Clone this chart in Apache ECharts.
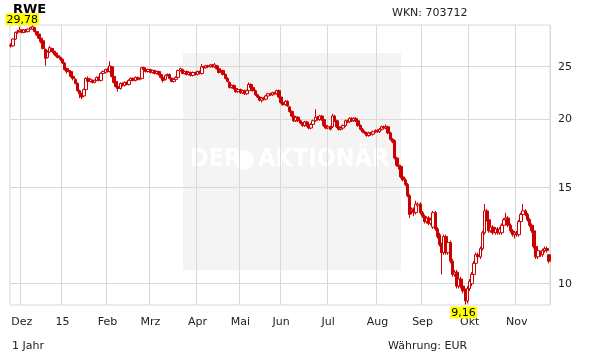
<!DOCTYPE html>
<html><head><meta charset="utf-8">
<script src="https://cdn.jsdelivr.net/npm/echarts@6/dist/echarts.min.js"></script>
<style>html,body{margin:0;padding:0;background:#fff}#c{width:611px;height:364px}</style>
</head><body><div id="c"></div>
<script>
const dates = [
'2014-11-24','2014-11-25','2014-11-26','2014-11-27','2014-11-28',
'2014-12-01','2014-12-02','2014-12-03','2014-12-04','2014-12-05','2014-12-08','2014-12-09','2014-12-10','2014-12-11','2014-12-12','2014-12-15','2014-12-16','2014-12-17','2014-12-18','2014-12-19','2014-12-22','2014-12-23','2014-12-29','2014-12-30',
'2015-01-02','2015-01-05','2015-01-06','2015-01-07','2015-01-08','2015-01-09','2015-01-12','2015-01-13','2015-01-14','2015-01-15','2015-01-16','2015-01-19','2015-01-20','2015-01-21','2015-01-22','2015-01-23','2015-01-26','2015-01-27','2015-01-28','2015-01-29','2015-01-30',
'2015-02-02','2015-02-03','2015-02-04','2015-02-05','2015-02-06','2015-02-09','2015-02-10','2015-02-11','2015-02-12','2015-02-13','2015-02-16','2015-02-17','2015-02-18','2015-02-19','2015-02-20','2015-02-23','2015-02-24','2015-02-25','2015-02-26','2015-02-27',
'2015-03-02','2015-03-03','2015-03-04','2015-03-05','2015-03-06','2015-03-09','2015-03-10','2015-03-11','2015-03-12','2015-03-13','2015-03-16','2015-03-17','2015-03-18','2015-03-19','2015-03-20','2015-03-23','2015-03-24','2015-03-25','2015-03-26','2015-03-27','2015-03-30','2015-03-31',
'2015-04-01','2015-04-02','2015-04-07','2015-04-08','2015-04-09','2015-04-10','2015-04-13','2015-04-14','2015-04-15','2015-04-16','2015-04-17','2015-04-20','2015-04-21','2015-04-22','2015-04-23','2015-04-24','2015-04-27','2015-04-28','2015-04-29','2015-04-30',
'2015-05-04','2015-05-05','2015-05-06','2015-05-07','2015-05-08','2015-05-11','2015-05-12','2015-05-13','2015-05-14','2015-05-15','2015-05-18','2015-05-19','2015-05-20','2015-05-21','2015-05-22','2015-05-26','2015-05-27','2015-05-28','2015-05-29',
'2015-06-01','2015-06-02','2015-06-03','2015-06-04','2015-06-05','2015-06-08','2015-06-09','2015-06-10','2015-06-11','2015-06-12','2015-06-15','2015-06-16','2015-06-17','2015-06-18','2015-06-19','2015-06-22','2015-06-23','2015-06-24','2015-06-25','2015-06-26','2015-06-29','2015-06-30',
'2015-07-01','2015-07-02','2015-07-03','2015-07-06','2015-07-07','2015-07-08','2015-07-09','2015-07-10','2015-07-13','2015-07-14','2015-07-15','2015-07-16','2015-07-17','2015-07-20','2015-07-21','2015-07-22','2015-07-23','2015-07-24','2015-07-27','2015-07-28','2015-07-29','2015-07-30','2015-07-31',
'2015-08-03','2015-08-04','2015-08-05','2015-08-06','2015-08-07','2015-08-10','2015-08-11','2015-08-12','2015-08-13','2015-08-14','2015-08-17','2015-08-18','2015-08-19','2015-08-20','2015-08-21','2015-08-24','2015-08-25','2015-08-26','2015-08-27','2015-08-28','2015-08-31',
'2015-09-01','2015-09-02','2015-09-03','2015-09-04','2015-09-07','2015-09-08','2015-09-09','2015-09-10','2015-09-11','2015-09-14','2015-09-15','2015-09-16','2015-09-17','2015-09-18','2015-09-21','2015-09-22','2015-09-23','2015-09-24','2015-09-25','2015-09-28','2015-09-29','2015-09-30',
'2015-10-01','2015-10-02','2015-10-05','2015-10-06','2015-10-07','2015-10-08','2015-10-09','2015-10-12','2015-10-13','2015-10-14','2015-10-15','2015-10-16','2015-10-19','2015-10-20','2015-10-21','2015-10-22','2015-10-23','2015-10-26','2015-10-27','2015-10-28','2015-10-29','2015-10-30',
'2015-11-02','2015-11-03','2015-11-04','2015-11-05','2015-11-06','2015-11-09','2015-11-10','2015-11-11','2015-11-12','2015-11-13','2015-11-16','2015-11-17','2015-11-18','2015-11-19','2015-11-20','2015-11-23'
];
// [open, close, low, high]
const ohlc = [
[27.4,27.3,27.1,27.6],[27.3,28.1,27.2,28.2],[28.1,28.9,28.0,29.0],[28.9,29.0,28.7,29.2],[29.0,29.2,28.9,29.6],
[29.2,28.9,28.8,29.3],[28.9,29.2,28.8,29.3],[29.2,29.0,28.9,29.3],[29.0,29.3,28.9,29.4],[29.3,29.5,29.2,29.6],
[29.3,29.6,29.2,29.78],[29.5,29.0,28.9,29.6],[29.0,28.6,28.5,29.1],[28.7,28.2,28.1,28.8],[28.2,27.8,27.6,28.3],
[27.9,27.0,26.9,28.0],[26.9,25.9,25.1,27.0],[26.0,26.6,25.9,26.8],[26.6,27.1,26.5,27.3],[27.0,26.7,26.6,27.1],
[26.7,26.5,26.3,26.8],[26.5,26.2,26.1,26.6],[26.2,26.0,25.9,26.4],[26.0,25.8,25.6,26.1],[25.8,25.4,25.3,25.9],
[25.4,24.7,24.6,25.5],[24.8,24.5,24.3,24.9],[24.5,24.6,24.4,24.8],[24.5,24.0,23.9,24.6],[24.0,23.8,23.6,24.1],
[23.7,23.3,23.2,23.8],[23.3,22.6,22.5,23.4],[22.6,22.3,21.9,22.7],[22.3,22.0,21.8,22.4],[22.1,22.7,22.0,22.8],
[22.7,23.8,22.6,23.9],[23.8,23.5,23.4,24.0],[23.5,23.7,23.4,23.8],[23.6,23.4,23.3,23.7],[23.4,23.6,23.3,23.7],
[23.6,23.9,23.5,24.0],[23.9,23.6,23.5,24.0],[23.6,24.3,23.5,24.4],[24.3,24.5,24.2,24.6],[24.4,24.7,24.3,24.8],
[24.7,24.5,24.4,24.9],[24.5,25.1,24.4,25.6],[25.0,24.0,23.9,25.1],[24.0,23.4,23.3,24.1],[23.5,23.0,22.9,23.6],
[23.0,22.8,22.5,23.1],[22.8,23.3,22.7,23.4],[23.3,23.1,23.0,23.4],[23.1,23.4,23.0,23.5],[23.4,23.2,23.1,23.5],
[23.2,23.6,23.1,23.7],[23.6,23.8,23.5,23.9],[23.8,23.6,23.5,23.9],[23.6,23.9,23.5,24.0],[23.9,23.7,23.6,24.0],
[23.7,23.8,23.6,23.9],[23.8,24.9,23.7,25.0],[24.9,24.7,24.6,25.0],[24.7,24.5,24.4,24.8],[24.5,24.7,24.4,24.8],
[24.7,24.4,24.3,24.8],[24.4,24.6,24.3,24.7],[24.6,24.3,24.2,24.7],[24.3,24.5,24.2,24.6],[24.5,24.2,24.1,24.6],
[24.2,23.9,23.8,24.3],[23.9,23.6,23.4,24.0],[23.7,24.1,23.6,24.2],[24.1,24.2,24.0,24.3],[24.2,23.8,23.7,24.3],
[23.8,23.5,23.4,23.9],[23.5,23.7,23.4,23.8],[23.7,23.9,23.6,24.0],[23.9,24.6,23.8,24.7],[24.6,24.8,24.5,24.9],
[24.7,24.3,24.2,24.8],[24.3,24.5,24.2,24.6],[24.5,24.2,24.1,24.6],[24.2,24.4,24.1,24.5],[24.4,24.1,24.0,24.5],
[24.1,24.4,24.0,24.5],[24.4,24.2,24.1,24.5],[24.2,24.5,24.1,24.6],[24.5,24.3,24.2,24.6],[24.3,25.0,24.2,25.3],
[25.0,24.9,24.8,25.1],[24.9,25.1,24.8,25.2],[25.1,25.0,24.9,25.2],[25.0,25.2,24.9,25.3],[25.2,25.0,24.9,25.3],
[25.0,25.2,24.9,25.4],[25.1,24.8,24.7,25.2],[24.8,24.4,24.3,24.9],[24.5,24.6,24.4,24.7],[24.6,24.2,24.1,24.7],
[24.2,23.8,23.7,24.3],[23.8,23.5,23.4,23.9],[23.4,22.9,22.8,23.5],[22.9,23.1,22.8,23.2],[23.1,22.8,22.7,23.2],
[22.8,22.5,22.4,22.9],[22.5,22.7,22.4,22.8],[22.7,22.4,22.3,22.8],[22.4,22.6,22.3,22.7],[22.6,22.3,22.2,22.7],
[22.3,22.6,22.2,22.7],[22.6,23.2,22.5,23.4],[23.2,22.9,22.8,23.3],[22.9,22.6,22.5,23.0],[22.6,22.2,22.1,22.7],
[22.2,22.0,21.9,22.3],[22.0,21.7,21.6,22.1],[21.7,21.9,21.5,22.0],[21.9,21.8,21.7,22.0],[21.8,22.1,21.7,22.2],
[22.1,22.3,22.0,22.4],[22.3,22.2,22.1,22.4],[22.2,22.4,22.1,22.5],[22.4,22.3,22.2,22.5],[22.3,22.6,22.2,22.7],
[22.6,22.0,21.9,22.7],[22.0,21.5,21.4,22.1],[21.5,21.3,21.2,21.6],[21.3,21.6,21.2,21.7],[21.6,21.2,21.1,21.7],
[21.1,20.7,20.6,21.2],[20.7,20.3,20.2,20.8],[20.3,19.9,19.8,20.4],[19.9,20.2,19.8,20.3],[20.2,19.9,19.8,20.3],
[19.9,19.7,19.6,20.0],[19.7,19.5,19.4,19.8],[19.5,19.8,19.4,19.9],[19.8,19.5,19.4,19.9],[19.5,19.3,19.2,19.6],
[19.3,19.6,19.2,19.7],[19.6,19.9,19.5,20.0],[19.9,20.2,19.8,20.9],[20.2,20.0,19.9,20.3],[20.0,20.3,19.9,20.4],
[20.3,20.0,19.9,20.4],[20.0,19.5,19.4,20.1],[19.5,19.3,19.2,19.6],[19.3,19.4,19.2,19.5],[19.4,19.2,19.1,19.5],
[19.4,20.3,19.3,20.5],[20.3,19.9,19.8,20.4],[19.9,19.4,19.3,20.0],[19.4,19.2,19.1,19.5],[19.2,19.3,19.1,19.4],
[19.3,19.5,19.2,19.6],[19.5,19.9,19.4,20.0],[19.9,19.8,19.7,20.0],[19.8,20.1,19.7,20.2],[20.1,19.9,19.8,20.2],
[19.9,20.1,19.8,20.2],[20.1,19.9,19.8,20.2],[19.9,19.5,19.4,20.0],[19.5,19.2,19.1,19.6],[19.2,19.0,18.9,19.3],
[19.0,18.9,18.8,19.1],[18.9,18.7,18.6,19.0],[18.7,18.9,18.6,19.0],[18.9,18.8,18.7,19.0],[18.8,19.0,18.7,19.1],
[19.0,19.1,18.9,19.2],[19.1,19.0,18.9,19.2],[19.0,19.2,18.9,19.3],[19.2,19.4,19.1,19.5],[19.4,19.3,19.2,19.5],
[19.3,19.4,19.2,19.6],[19.4,18.9,18.8,19.5],[18.9,18.4,18.3,19.0],[18.4,18.2,18.1,18.5],[18.3,17.0,16.9,18.4],
[17.0,16.5,16.4,17.1],[16.5,16.4,16.2,16.7],[16.4,15.7,15.6,16.5],[15.7,15.5,15.4,15.8],[15.5,15.2,15.1,15.6],
[15.2,14.5,14.4,15.3],[14.5,13.4,13.2,14.6],[13.6,13.7,13.4,13.8],[13.7,13.5,13.3,13.8],[13.5,14.0,13.4,14.2],
[13.9,14.0,13.8,14.1],[14.0,13.5,13.4,14.1],[13.5,13.3,13.2,13.6],[13.3,13.0,12.9,13.4],[13.0,13.2,12.9,13.3],
[13.2,12.9,12.8,13.3],[12.9,13.1,12.8,13.2],[12.7,13.5,12.6,13.6],[13.5,12.6,12.5,13.6],[12.6,12.2,12.1,12.7],
[12.3,11.8,11.7,12.4],[11.8,11.4,10.4,11.9],[11.4,12.2,11.3,12.3],[12.2,11.4,11.3,12.3],[11.4,11.9,11.3,12.0],
[11.9,11.0,10.9,12.0],[11.0,10.4,10.3,11.1],[10.4,10.5,10.3,10.6],[10.5,9.9,9.8,10.6],[9.9,10.2,9.8,10.3],
[10.2,9.9,9.8,10.3],[9.9,9.7,9.6,10.0],[9.7,9.3,9.16,9.8],[9.3,9.8,9.2,9.9],[9.8,10.1,9.7,10.2],
[10.0,10.4,9.9,10.5],[10.4,10.9,10.3,11.0],[10.9,11.3,10.8,11.4],[11.3,11.2,11.0,11.4],[11.2,11.6,11.1,11.7],
[11.6,12.4,11.5,12.5],[12.4,13.6,12.3,14.0],[13.6,13.1,13.0,13.7],[13.1,12.5,12.4,13.2],[12.5,12.7,12.4,12.8],
[12.7,12.4,12.3,12.8],[12.4,12.6,12.3,12.7],[12.6,12.4,12.3,12.7],[12.4,12.6,12.3,12.7],[12.4,12.8,12.3,12.9],
[12.8,13.1,12.7,13.2],[13.1,13.2,13.0,13.5],[13.2,12.8,12.7,13.3],[12.8,12.5,12.4,12.9],[12.5,12.3,12.2,12.6],
[12.3,12.4,12.1,12.5],[12.4,12.3,12.2,12.5],[12.3,13.0,12.2,13.1],[13.0,13.4,12.9,13.5],[13.4,13.6,13.3,14.0],
[13.6,13.4,13.3,13.7],[13.4,13.1,13.0,13.5],[13.1,12.8,12.7,13.2],[12.8,12.5,12.4,12.9],[12.5,11.7,11.6,12.6],
[11.7,11.2,11.1,11.8],[11.2,11.5,11.1,11.6],[11.4,11.3,11.2,11.5],[11.3,11.5,11.2,11.6],[11.5,11.6,11.4,11.7],
[11.6,11.5,11.4,11.7],[11.3,11.0,10.9,11.3]
];
const monthNames = ['15','Feb','Mrz','Apr','Mai','Jun','Jul','Aug','Sep','Okt','Nov','Dez'];
const yTicks = [10, 15, 20, 25];
const titleText = 'RWE';
const wknText = 'WKN: 703712';
const rangeText = '1 Jahr';
const currencyText = 'Währung: EUR';

const FONT = 'DejaVu Sans';
const RED = '#cc0000';
const GRID = '#d9d9d9';
function isMonthStart(i) {
  return i > 0 && dates[i].slice(5, 7) !== dates[i - 1].slice(5, 7);
}
function fmt(v) { return v.toFixed(2).replace('.', ','); }

const chart = echarts.init(document.getElementById('c'), null, {renderer: 'canvas'});
chart.setOption({
  animation: false,
  backgroundColor: '#fff',
  grid: {left: 10, right: 61, top: 25, bottom: 59, show: true, borderColor: GRID, borderWidth: 1, backgroundColor: 'transparent'},
  graphic: [
    {type: 'rect', z: -10, shape: {x: 183, y: 53, width: 218, height: 217}, style: {fill: '#f4f4f4'}},
    {type: 'text', z: -9, left: 190, top: 147, style: {text: 'DER', fill: '#ffffff', font: 'bold 25px "DejaVu Sans Condensed"'}},
    {type: 'circle', z: -9, shape: {cx: 244, cy: 160, r: 10}, style: {fill: '#ffffff'}},
    {type: 'text', z: -9, left: 258, top: 147, style: {text: 'AKTIONÄR', fill: '#ffffff', font: 'bold 25px "DejaVu Sans Condensed"'}},
    {type: 'text', left: 13, top: 3, style: {text: titleText, fill: '#000', font: 'bold 13px "DejaVu Sans"'}},
    {type: 'text', left: 392, top: 8, style: {text: wknText, fill: '#222', font: '11px "DejaVu Sans"'}},
    {type: 'text', left: 12, top: 341, style: {text: rangeText, fill: '#222', font: '11px "DejaVu Sans"'}},
    {type: 'text', left: 388, top: 341, style: {text: currencyText, fill: '#222', font: '11px "DejaVu Sans"'}}
  ],
  xAxis: {
    type: 'category', data: dates, boundaryGap: true,
    axisLine: {show: false}, axisTick: {show: false},
    axisLabel: {interval: (i) => isMonthStart(i), formatter: (v) => monthNames[+v.slice(5, 7) - 1],
      color: '#222', fontFamily: FONT, fontSize: 11, margin: 12},
    splitLine: {show: true, interval: (i) => isMonthStart(i), lineStyle: {color: GRID, width: 1}}
  },
  yAxis: {
    type: 'log', logBase: 10, position: 'right', min: 9.14, max: 29.82,
    axisLine: {show: false},
    axisTick: {show: false, customValues: yTicks},
    axisLabel: {customValues: yTicks, color: '#222', fontFamily: FONT, fontSize: 11, margin: 8, formatter: (v) => String(Math.round(v))},
    splitLine: {show: true, lineStyle: {color: GRID, width: 1}}
  },
  series: [{
    type: 'candlestick', data: ohlc, barWidth: 3, barMinWidth: 3,
    itemStyle: {color: '#ffffff', color0: RED, borderColor: RED, borderColor0: RED, borderWidth: 1},
    markPoint: {
      symbol: 'rect', symbolSize: 0, animation: false,
      label: {show: true, formatter: (p) => fmt(p.value), color: '#000', backgroundColor: '#ffff00',
        fontFamily: FONT, fontSize: 11, padding: [1, 1, 0, 1], lineHeight: 11},
      data: [
        {type: 'max', valueDim: 'highest', label: {position: [-27, -12]}},
        {type: 'min', valueDim: 'lowest', label: {position: [-15, 2]}}
      ]
    }
  }]
});
</script>
</body></html>
